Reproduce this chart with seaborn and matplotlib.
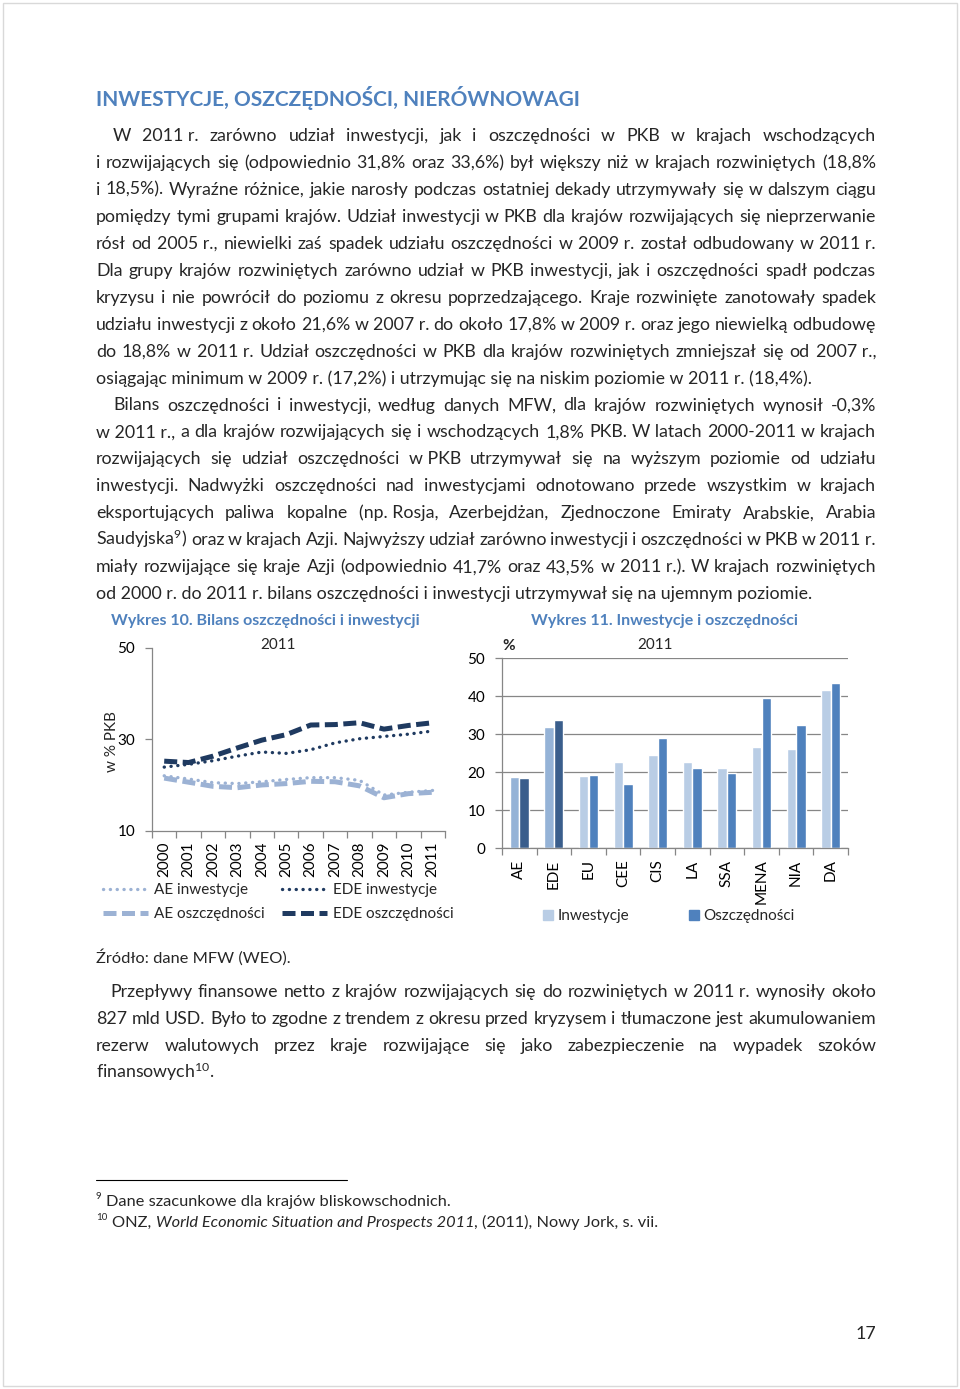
import numpy as np
import pandas as pd
import matplotlib.pyplot as plt
import seaborn as sns
from matplotlib.lines import Line2D
from matplotlib.patches import Patch, Rectangle

# -----------------------------
# Data
# -----------------------------
years = [2000, 2001, 2002, 2003, 2004, 2005, 2006, 2007, 2008, 2009, 2010, 2011]
ae_inv = [22.0, 21.3, 20.5, 20.3, 20.7, 21.2, 21.6, 21.6, 21.0, 17.8, 18.4, 18.8]
ae_sav = [21.5, 20.6, 19.7, 19.4, 20.0, 20.3, 20.8, 20.7, 19.8, 17.2, 18.1, 18.4]
ede_inv = [23.9, 24.5, 25.3, 26.3, 27.2, 26.9, 27.7, 29.2, 30.1, 30.6, 31.1, 31.8]
ede_sav = [25.2, 24.9, 26.3, 28.1, 29.8, 31.0, 33.1, 33.2, 33.6, 32.2, 33.0, 33.6]

regions = ['AE', 'EDE', 'EU', 'CEE', 'CIS', 'LA', 'SSA', 'MENA', 'NIA', 'DA']
inv_2011 = [18.8, 31.8, 19.0, 22.6, 24.4, 22.6, 21.2, 26.6, 26.0, 41.7]
sav_2011 = [18.5, 33.6, 19.3, 16.8, 29.1, 21.1, 19.7, 39.6, 32.4, 43.5]

title = "INWESTYCJE, OSZCZĘDNOŚCI, NIERÓWNOWAGI"
para1 = [
    "W 2011~r. zarówno udział inwestycji, jak i oszczędności w PKB w krajach wschodzących",
    "i rozwijających się (odpowiednio 31,8% oraz 33,6%) był większy niż w krajach rozwiniętych (18,8%",
    "i 18,5%). Wyraźne różnice, jakie narosły podczas ostatniej dekady utrzymywały się w dalszym ciągu",
    "pomiędzy tymi grupami krajów. Udział inwestycji w PKB dla krajów rozwijających się nieprzerwanie",
    "rósł od 2005~r., niewielki zaś spadek udziału oszczędności w 2009~r. został odbudowany w 2011~r.",
    "Dla grupy krajów rozwiniętych zarówno udział w PKB inwestycji, jak i oszczędności spadł podczas",
    "kryzysu i nie powrócił do poziomu z okresu poprzedzającego. Kraje rozwinięte zanotowały spadek",
    "udziału inwestycji z około 21,6% w 2007~r. do około 17,8% w 2009~r. oraz jego niewielką odbudowę",
    "do 18,8% w 2011~r. Udział oszczędności w PKB dla krajów rozwiniętych zmniejszał się od 2007~r.,",
    "osiągając minimum w 2009~r. (17,2%) i utrzymując się na niskim poziomie w 2011~r. (18,4%).",
]
para2 = [
    "Bilans oszczędności i inwestycji, według danych MFW, dla krajów rozwiniętych wynosił -0,3%",
    "w~2011~r., a dla krajów rozwijających się i wschodzących 1,8% PKB. W~latach 2000-2011 w krajach",
    "rozwijających się udział oszczędności w~PKB utrzymywał się na wyższym poziomie od udziału",
    "inwestycji. Nadwyżki oszczędności nad inwestycjami odnotowano przede wszystkim w krajach",
    "eksportujących paliwa kopalne (np.~Rosja, Azerbejdżan, Zjednoczone Emiraty Arabskie, Arabia",
    "Saudyjska$^{\\mathrm{9}}$) oraz w krajach Azji. Najwyższy udział zarówno inwestycji i oszczędności w PKB w 2011~r.",
    "miały rozwijające się kraje Azji (odpowiednio 41,7% oraz 43,5% w 2011~r.). W krajach rozwiniętych",
    "od 2000~r. do 2011~r. bilans oszczędności i inwestycji utrzymywał się na ujemnym poziomie.",
]
para3 = [
    "Przepływy finansowe netto z krajów rozwijających się do rozwiniętych w 2011~r. wynosiły około",
    "827 mld USD. Było to zgodne z trendem z okresu przed kryzysem i tłumaczone jest akumulowaniem",
    "rezerw walutowych przez kraje rozwijające się jako zabezpieczenie na wypadek szoków",
    "finansowych$^{\\mathrm{10}}$.",
]

# -----------------------------
# Style
# -----------------------------
sns.set_theme(style="white")
plt.rcParams['font.family'] = ['Lato', 'DejaVu Sans']
plt.rcParams['mathtext.fontset'] = 'custom'
plt.rcParams['mathtext.rm'] = 'Lato'
plt.rcParams['mathtext.it'] = 'Lato:italic'
plt.rcParams['mathtext.bf'] = 'Lato:bold'

BLUE_HEAD = '#4F81BD'
LIGHT_LINE = '#9CB2D4'
DARK_LINE = '#1F3A60'
INV_COL = '#B9CDE5'
SAV_COL = '#4F81BD'
AXIS_GRAY = '#868686'

W, H = 960, 1389
fig = plt.figure(figsize=(W / 100, H / 100), dpi=100)
renderer = fig.canvas.get_renderer()


def fx(x):
    return x / W


def fy(y):
    return 1 - y / H


def text_width(s, size, **kw):
    t = fig.text(0, 0, s, fontsize=size, **kw)
    w = t.get_window_extent(renderer).width
    t.remove()
    return w


def put_line(line, x0, yb, size, x1=None, **kw):
    if x1 is None:
        fig.text(fx(x0), fy(yb), line.replace('~', ' '), fontsize=size, va='baseline', **kw)
        return
    words = [w.replace('~', ' ') for w in line.split(' ')]
    widths = [text_width(w, size, **kw) for w in words]
    gap = (x1 - x0 - sum(widths)) / (len(words) - 1)
    x = x0
    for w, wd in zip(words, widths):
        fig.text(fx(x), fy(yb), w, fontsize=size, va='baseline', **kw)
        x += wd + gap


# font sizes fitted to the page widths
body = 11.5 * 717 / text_width(para1[-1].replace('~', ' '), 11.5)
title_size = 15 * 484 / text_width(title, 15, fontweight='bold')
head_size = 11 * 309 / text_width("Wykres 10. Bilans oszczędności i inwestycji", 11, fontweight='bold')
chart_fs = 11.0

# page frame
fig.patches.append(Rectangle((fx(3), fy(1386)), 954 / W, 1383 / H, transform=fig.transFigure,
                             fill=False, ec='#D9D9D9', lw=1))

# -----------------------------
# Text
# -----------------------------
fig.text(fx(96), fy(106), title, fontsize=title_size, fontweight='bold', color=BLUE_HEAD, va='baseline')

RIGHT = 876
LINE = 26.95
for i, ln in enumerate(para1):
    x0 = 113 if i == 0 else 96
    put_line(ln, x0, 141 + LINE * i, body, None if i == len(para1) - 1 else RIGHT)
for i, ln in enumerate(para2):
    x0 = 113 if i == 0 else 96
    put_line(ln, x0, 141 + LINE * (i + 10), body, None if i == len(para2) - 1 else RIGHT)

fig.text(fx(96), fy(963), "Źródło: dane MFW (WEO).", fontsize=body * 0.92, va='baseline')
for i, ln in enumerate(para3):
    x0 = 110 if i == 0 else 96
    put_line(ln, x0, 997 + LINE * i, body, None if i == len(para3) - 1 else RIGHT)

# footnotes
fig.add_artist(Line2D([fx(96), fx(347)], [fy(1180), fy(1180)], color='black', lw=0.8))
fn = body * 0.92
fig.text(fx(96), fy(1199), "9", fontsize=fn * 0.6, va='baseline')
fig.text(fx(106), fy(1206), "Dane szacunkowe dla krajów bliskowschodnich.", fontsize=fn, va='baseline')
fig.text(fx(96), fy(1220), "10", fontsize=fn * 0.6, va='baseline')
x = 112
for s, st in [("ONZ, ", 'normal'), ("World Economic Situation and Prospects 2011", 'italic'),
              (", (2011), Nowy Jork, s. vii.", 'normal')]:
    fig.text(fx(x), fy(1227), s, fontsize=fn, fontstyle=st, va='baseline')
    x += text_width(s, fn, fontstyle=st)

fig.text(fx(866), fy(1339), "17", fontsize=body, ha='center', va='baseline')

# -----------------------------
# Wykres 10 - line chart
# -----------------------------
fig.text(fx(111), fy(625), "Wykres 10. Bilans oszczędności i inwestycji", fontsize=head_size,
         fontweight='bold', color=BLUE_HEAD, va='baseline')
fig.text(fx(278), fy(649), "2011", fontsize=chart_fs, ha='center', va='baseline')
fig.text(fx(112), fy(742), "w % PKB", fontsize=chart_fs, rotation=90, ha='center', va='center')

ax1 = fig.add_axes([fx(152), fy(830.7), (445 - 152) / W, (830.7 - 647.7) / H])
dot = dict(lw=2.4, linestyle=(0, (0.05, 2.0)), dash_capstyle='round')
dash = dict(lw=3.6, linestyle=(0, (2.6, 1.1)), dash_capstyle='butt')
sns.lineplot(x=years, y=ae_inv, ax=ax1, color=LIGHT_LINE, **dot)
sns.lineplot(x=years, y=ede_inv, ax=ax1, color=DARK_LINE, **dot)
sns.lineplot(x=years, y=ae_sav, ax=ax1, color=LIGHT_LINE, **dash)
sns.lineplot(x=years, y=ede_sav, ax=ax1, color=DARK_LINE, **dash)

ax1.set_xlim(years[0] - 0.5, years[-1] + 0.5)
ax1.set_ylim(10, 50)
ax1.set_yticks([10, 30, 50])
ax1.set_xticks(years)
ax1.set_xticklabels([str(y) for y in years], rotation=90)
ax1.set_xticks(np.arange(years[0] - 0.5, years[-1] + 1), minor=True)

legend_handles = [
    Line2D([], [], color=LIGHT_LINE, **dot),
    Line2D([], [], color=LIGHT_LINE, **dash),
    Line2D([], [], color=DARK_LINE, **dot),
    Line2D([], [], color=DARK_LINE, **dash),
]
fig.legend(legend_handles, ["AE inwestycje", "AE oszczędności", "EDE inwestycje", "EDE oszczędności"],
           ncol=2, loc='upper left', bbox_to_anchor=(fx(103), fy(883)), bbox_transform=fig.transFigure,
           frameon=False, fontsize=chart_fs, handlelength=2.95, handletextpad=0.4,
           columnspacing=1.1, labelspacing=0.65, borderpad=0, borderaxespad=0)

# -----------------------------
# Wykres 11 - bar chart
# -----------------------------
fig.text(fx(531), fy(625), "Wykres 11. Inwestycje i oszczędności", fontsize=head_size,
         fontweight='bold', color=BLUE_HEAD, va='baseline')
fig.text(fx(655), fy(649), "2011", fontsize=chart_fs, ha='center', va='baseline')
fig.text(fx(509), fy(650), "%", fontsize=chart_fs, fontweight='bold', ha='center', va='baseline')

bars = pd.DataFrame({
    'region': regions * 2,
    'value': inv_2011 + sav_2011,
    'series': ['Inwestycje'] * len(regions) + ['Oszczędności'] * len(regions),
})
ax2 = fig.add_axes([fx(502), fy(848.3), (848 - 502) / W, (848.3 - 658) / H])
sns.barplot(data=bars, x='region', y='value', hue='series', palette=[INV_COL, SAV_COL],
            width=0.55, gap=0, saturation=1, legend=False, ax=ax2)
# aggregates AE / EDE drawn in a different shade
for i in range(2):
    ax2.containers[0][i].set_facecolor('#95B3D7')
    ax2.containers[1][i].set_facecolor('#3A5E8C')

ax2.set_axisbelow(True)
ax2.yaxis.grid(True, color=AXIS_GRAY, lw=0.9)
ax2.set_ylim(0, 50)
ax2.set_xlim(-0.5, len(regions) - 0.5)
ax2.set_yticks(range(0, 51, 10))
ax2.set_xticks(range(len(regions)))
ax2.set_xticklabels(regions, rotation=90)
ax2.set_xticks(np.arange(-0.5, len(regions)), minor=True)
ax2.set_xlabel('')
ax2.set_ylabel('')

fig.legend([Patch(color=INV_COL), Patch(color=SAV_COL)], ["Inwestycje", "Oszczędności"],
           ncol=2, loc='upper left', bbox_to_anchor=(fx(543), fy(909)), bbox_transform=fig.transFigure,
           frameon=False, fontsize=chart_fs, handlelength=0.65, handleheight=0.65,
           handletextpad=0.3, columnspacing=3.9, borderpad=0, borderaxespad=0)

# shared axis styling
for ax in (ax1, ax2):
    for side in ('top', 'right'):
        ax.spines[side].set_visible(False)
    for side in ('left', 'bottom'):
        ax.spines[side].set_color(AXIS_GRAY)
        ax.spines[side].set_linewidth(0.9)
    ax.tick_params(axis='y', which='major', direction='out', length=5, width=0.9, color=AXIS_GRAY,
                   left=True, pad=7, labelsize=chart_fs, labelcolor='black')
    ax.tick_params(axis='x', which='major', length=0, pad=8, labelsize=chart_fs, labelcolor='black')
    ax.tick_params(axis='x', which='minor', direction='out', length=5, width=0.9, color=AXIS_GRAY,
                   bottom=True)
    ax.set_facecolor('none')

fig.savefig("out.png", dpi=100)
